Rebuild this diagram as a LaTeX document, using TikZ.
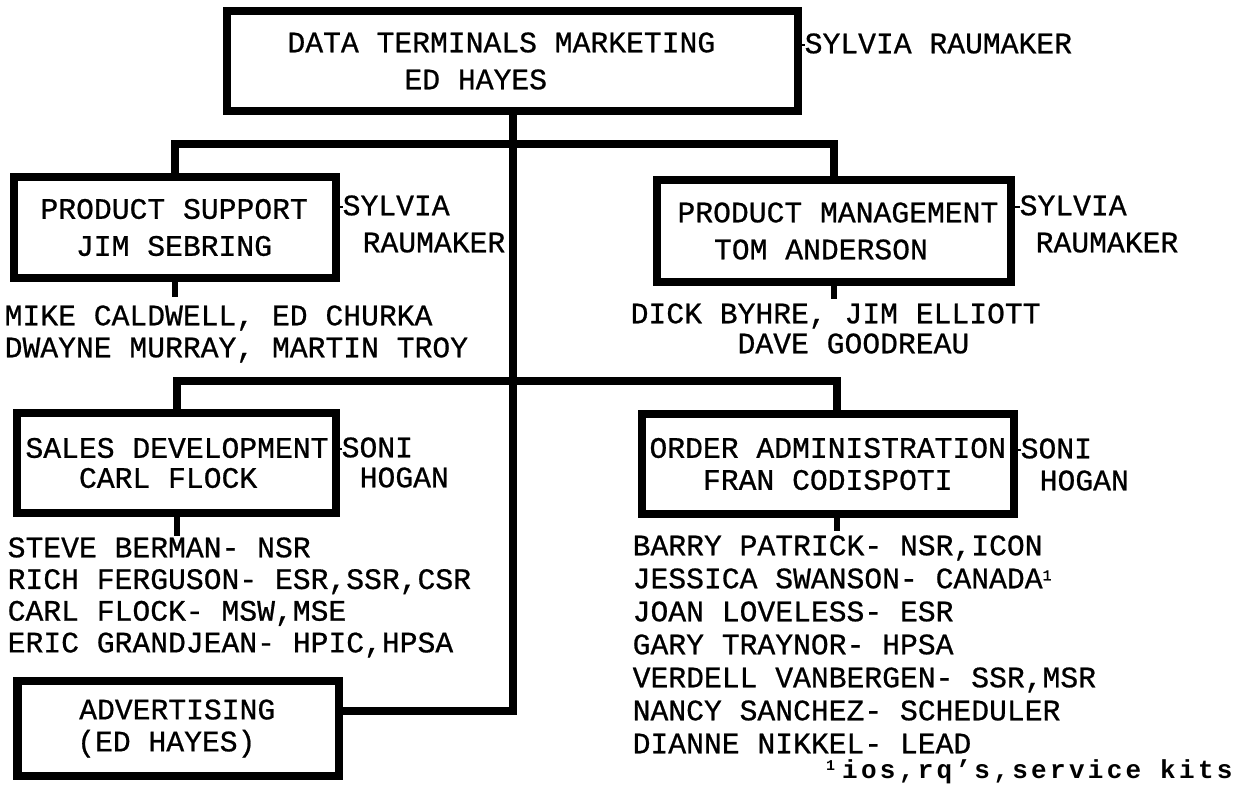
\documentclass[tikz,border=0pt]{standalone}
\usepackage{fontspec}
\newfontfamily\plotfont[FakeBold=0.7]{Liberation Mono}
\newfontfamily\notefont{Liberation Mono}
\usetikzlibrary{calc}
\begin{document}
\begin{tikzpicture}[x=1pt,y=-1pt,
  pf/.style={font=\plotfont\frenchspacing\fontsize{29.7pt}{#1}\selectfont},
  box/.style={draw, rectangle, line width=8.5pt, inner sep=0pt, align=left,
    execute at begin node={\spaceskip=17.82pt\relax\xspaceskip=17.82pt\relax}},
  names/.style={inner sep=0pt, align=left, anchor=north west},
  conn/.style={line width=8pt},
  tick/.style={line width=6pt},
  atick/.style={line width=2.5pt},
]
\useasboundingbox (0,0) rectangle (1245,786);

% boxes
\node[box, pf=37pt, minimum width=571pt, minimum height=100pt, text width=571pt] (top) at (512.5,61)
  {\hspace*{60.5pt}DATA TERMINALS MARKETING\\\hspace*{177.5pt}ED HAYES};
\node[box, pf=37pt, minimum width=322pt, minimum height=101pt, text width=322pt] (ps) at (175,227.5)
  {\hspace*{26.5pt}PRODUCT SUPPORT\\\hspace*{62pt}JIM SEBRING};
\node[box, pf=37pt, minimum width=354pt, minimum height=102pt, text width=354pt] (pm) at (834,231)
  {\hspace*{20.5pt}PRODUCT MANAGEMENT\\\hspace*{57pt}TOM ANDERSON};
\node[box, pf=30pt, minimum width=319pt, minimum height=100pt, text width=319pt] (sd) at (176.5,463)
  {\hspace*{8.5pt}SALES DEVELOPMENT\\\hspace*{62pt}CARL FLOCK};
\node[box, pf=32pt, minimum width=372pt, minimum height=100pt, text width=372pt] (oa) at (828,464)
  {\hspace*{7.5pt}ORDER ADMINISTRATION\\\hspace*{61pt}FRAN CODISPOTI};
\node[box, pf=32pt, minimum width=321.5pt, minimum height=95pt, text width=321.5pt] (adv) at (178,728.5)
  {\hspace*{62pt}ADVERTISING\\\hspace*{60pt}(ED HAYES)};

% assistants
\node[names, pf=37pt] (sylA) at (804.5,33.2) {SYLVIA RAUMAKER};
\node[names, pf=37pt] (sylB) at (342.5,195.2) {SYLVIA\\\hspace*{20pt}RAUMAKER};
\node[names, pf=37pt] (sylC) at (1019.5,195.2) {SYLVIA\\\hspace*{16pt}RAUMAKER};
\node[names, pf=30pt] (soniA) at (341.5,437.2) {SONI\\\hspace*{18pt}HOGAN};
\node[names, pf=32pt] (soniB) at (1020.5,438.2) {SONI\\\hspace*{19pt}HOGAN};

\coordinate (tA) at ([yshift=-12pt]sylA.north west);
\coordinate (tB) at ([yshift=-12pt]sylB.north west);
\coordinate (tC) at ([yshift=-12pt]sylC.north west);
\coordinate (tD) at ([yshift=-12pt]soniA.north west);
\coordinate (tE) at ([yshift=-12pt]soniB.north west);
\draw[atick] (top.east |- tA) -- (tA);
\draw[atick] (ps.east |- tB) -- (tB);
\draw[atick] (pm.east |- tC) -- (tC);
\draw[atick] (sd.east |- tD) -- (tD);
\draw[atick] (oa.east |- tE) -- (tE);

% staff lists
\node[names, pf=32pt] (psN) at (4.5,305.2)
  {MIKE CALDWELL, ED CHURKA\\DWAYNE MURRAY, MARTIN TROY};
\node[names, pf=30pt] (pmN) at (630.5,303.2)
  {DICK BYHRE, JIM ELLIOTT\\\hspace*{106.9pt}DAVE GOODREAU};
\node[names, pf=31.7pt] (sdN) at (7.5,537.2)
  {STEVE BERMAN- NSR\\RICH FERGUSON- ESR,SSR,CSR\\CARL FLOCK- MSW,MSE\\ERIC GRANDJEAN- HPIC,HPSA};
\node[names, pf=33pt] (oaN) at (632.5,535.2)
  {BARRY PATRICK- NSR,ICON\\JESSICA SWANSON- CANADA\raisebox{8pt}{\fontsize{15pt}{15pt}\selectfont 1}\\JOAN LOVELESS- ESR\\GARY TRAYNOR- HPSA\\VERDELL VANBERGEN- SSR,MSR\\NANCY SANCHEZ- SCHEDULER\\DIANNE NIKKEL- LEAD};

% footnote
\node[inner sep=0pt, anchor=base west, font=\notefont\bfseries\fontsize{26pt}{30pt}\selectfont\addfontfeature{LetterSpace=12.7}] (fn) at (826,778)
  {\raisebox{8pt}{\fontsize{15pt}{15pt}\selectfont 1}\hspace{7pt}ios,rq’s,service kits};

% connectors
\draw[conn] (top.south) |- (adv.east |- 0,711);
\draw[conn] (ps.north) |- (pm.north |- 0,144) -- (pm.north);
\coordinate (oaIn) at ([xshift=9pt]oa.north);
\draw[conn] (sd.north) |- (oaIn |- 0,381) -- (oaIn);

% drops to staff lists
\draw[tick] (ps.south) -- ++(0,15);
\draw[tick] (pm.south) -- ++(0,13);
\draw[tick] (sd.south) -- ++(0,19);
\coordinate (oaOut) at ([xshift=9pt]oa.south);
\draw[tick] (oaOut) -- ++(0,13);
\end{tikzpicture}
\end{document}
